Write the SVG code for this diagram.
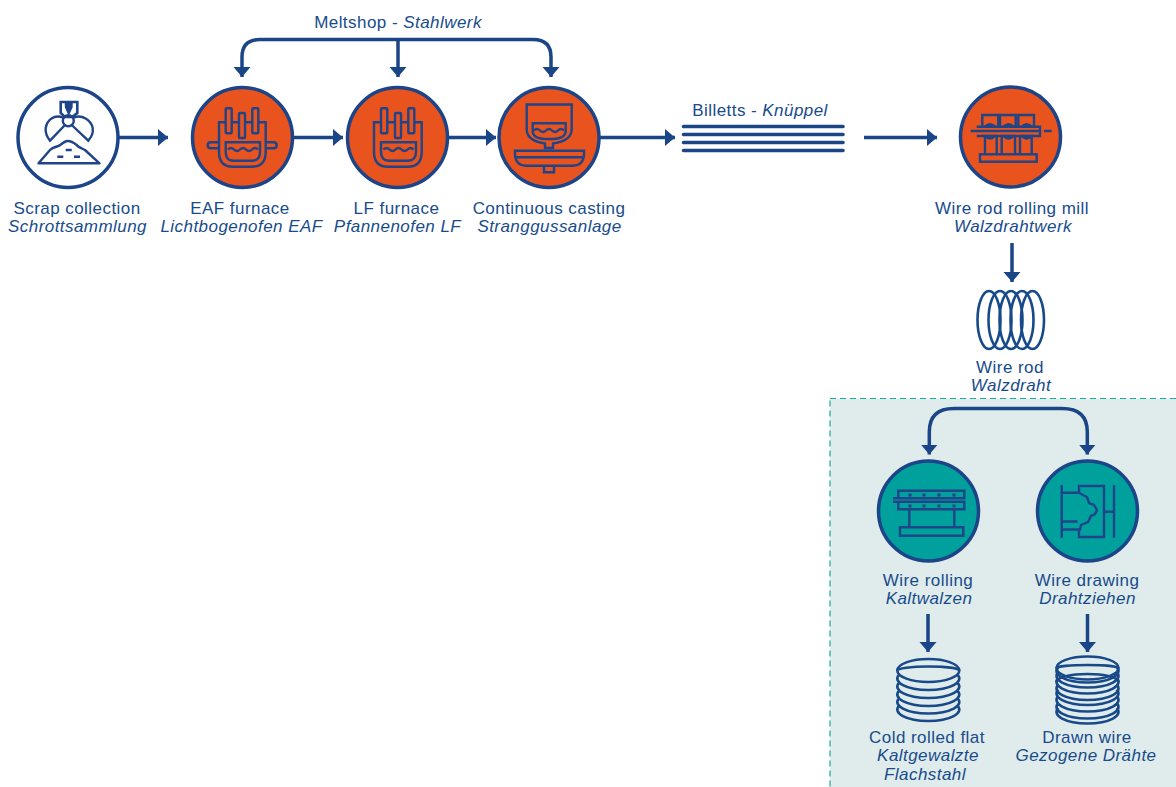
<svg xmlns="http://www.w3.org/2000/svg" width="1176" height="787" viewBox="0 0 1176 787">
<defs>
<style>
.ln{fill:none;stroke:#1a4587;stroke-width:3.5}
.ic{fill:none;stroke:#1f4488;stroke-width:2.4;stroke-linejoin:miter}
.rim{stroke:#1c4488;stroke-width:3.5}
.cl{fill:none;stroke:#184a8a;stroke-width:2.6}
.bl{fill:none;stroke:#1a4587;stroke-width:3.6;stroke-linecap:round}
text{font-family:"Liberation Sans",Arial,sans-serif;font-size:17px;letter-spacing:.45px;fill:#174b8c;text-anchor:middle}
.g{font-style:italic}
</style>
<marker id="ah" markerUnits="userSpaceOnUse" markerWidth="12" markerHeight="18" refX="10" refY="8.500" orient="auto"><path d="M0 0L10 8.500L0 17Z" fill="#1a4587"/></marker>
<path id="wave" d="M0 0q3-3 6 0t6 0 6 0 6 0 6 0"/>
</defs>
<rect width="1176" height="787" fill="#fff"/>
<rect id="panel" x="830" y="398.500" width="347" height="392" fill="#e0ebeb" stroke="#19a8a0" stroke-width="1.200" stroke-dasharray="6 4"/>
<g id="connectors">
<path class="ln" marker-end="url(#ah)" d="M119 137.500H168"/>
<path class="ln" marker-end="url(#ah)" d="M294 137.500H343"/>
<path class="ln" marker-end="url(#ah)" d="M449 137.500H496"/>
<path class="ln" marker-end="url(#ah)" d="M600 137.500H675"/>
<path class="ln" marker-end="url(#ah)" d="M864 137.500H937"/>
<path class="ln" marker-end="url(#ah)" d="M1012 243V282"/>
<path class="ln" marker-end="url(#ah)" d="M398 39.500H260Q242 39.500 242 57V77"/>
<path class="ln" marker-end="url(#ah)" d="M398 39.500H533Q551 39.500 551 57V77"/>
<path class="ln" marker-end="url(#ah)" d="M398 39.500V77"/>
<path class="ln" marker-end="url(#ah)" d="M1008 408.500H954Q929.300 408.500 929.300 432V454.500"/>
<path class="ln" marker-end="url(#ah)" d="M1008 408.500H1062Q1087.300 408.500 1087.300 432V454.500"/>
<path class="ln" marker-end="url(#ah)" d="M928 614V652"/>
<path class="ln" marker-end="url(#ah)" d="M1087.500 614V652"/>
</g>
<g id="meltshop-label"><text x="398" y="28">Meltshop - <tspan class="g">Stahlwerk</tspan></text></g>
<g id="scrap">
<circle class="rim" cx="68" cy="137.500" r="50" fill="#fff"/>
<g class="ic">
<path d="M60.700 102H77.300V113L72 117H65L60.700 113Z" stroke-width="2.600"/><path d="M66 102V107L68.700 113L71.500 107V102" fill="#1f4488"/>
<circle cx="68.300" cy="120.700" r="5.500"/>
<path d="M63.300 117.700C54 114 47 120 45.700 128C45 134 47 137 50 140.700L65 125"/>
<path d="M73.300 117.700C82 114 91 120 92.700 128C93.500 134 91 137 88.300 140.700L71.700 125"/>
<path d="M38.500 163.300H99.500L85 150C81 148 78 147 76.700 145C73 142 70 140.700 67 141C63 142 61 145 58.300 146C55 147 52 148 50 150Z" stroke-linejoin="round"/>
<path d="M65.700 150H71.700M57.300 156.700H63.300M74 156.700H80"/>
</g>
<text x="77" y="214">Scrap collection</text><text class="g" x="77.500" y="232">Schrottsammlung</text>
</g>
<g id="eaf">
<circle class="rim" cx="242.500" cy="137.500" r="50" fill="#e9531d"/>
<g class="ic">
<path d="M225.700 122.300H219V152Q219 166.700 233 166.700H252Q265.700 166.700 265.700 152V122.300H258.300M245 122.300H252.300M231.700 122.300H239"/>
<rect x="225.700" y="108.300" width="6" height="25" rx="1"/><rect x="239" y="113" width="6" height="25" rx="1"/><rect x="252.300" y="108.300" width="6" height="25" rx="1"/>
<path d="M225.700 142.300H260V152Q260 160.700 252 160.700H233Q225.700 160.700 225.700 152Z"/>
<use href="#wave" x="228" y="149.500"/>
<path d="M219 142.300H211Q207.700 142.300 207.700 145.300T211 148.300H219M265.700 142.300H273.700Q276.700 142.300 276.700 145.300T273.700 148.300H265.700"/>
</g>
<text x="240" y="214">EAF furnace</text><text class="g" x="241.500" y="232">Lichtbogenofen EAF</text>
</g>
<g id="lf">
<circle class="rim" cx="397.500" cy="137.500" r="50" fill="#e9531d"/>
<g class="ic">
<path d="M381 122.300H374V152Q374 166.700 388 166.700H407.700Q421.700 166.700 421.700 152V122.300H414.300M401 122.300H408.300M387.300 122.300H395"/>
<rect x="381" y="108.300" width="6.300" height="25" rx="1"/><rect x="395" y="113" width="6" height="25" rx="1"/><rect x="408.300" y="108.300" width="6" height="25" rx="1"/>
<path d="M381 142.300H416V152Q416 160.700 408 160.700H389Q381 160.700 381 152Z"/>
<use href="#wave" x="383.500" y="149.500"/>
</g>
<text x="396.500" y="214">LF furnace</text><text class="g" x="397.500" y="232">Pfannenofen LF</text>
</g>
<g id="casting">
<circle class="rim" cx="549" cy="137.500" r="50" fill="#e9531d"/>
<g class="ic">
<path d="M526.700 104.500H571.700V129Q571.700 141 553 143.500V148H545V143.500Q526.700 141 526.700 129Z"/>
<path d="M532.700 123.300H565.700V131Q565.700 138 554 139H544Q532.700 138 532.700 131Z"/>
<use href="#wave" x="534" y="130.500"/>
<path d="M515 150.700H584V155Q583 165.700 573 165.700H526Q516 165.700 515 155ZM516 157.300H583M544 165.700V172.300H554V165.700"/>
</g>
<text x="549" y="214">Continuous casting</text><text class="g" x="549.500" y="232">Stranggussanlage</text>
</g>
<g id="billets">
<text x="760" y="116">Billetts - <tspan class="g">Knüppel</tspan></text>
<path class="bl" d="M683.500 126.500H843M683.500 134.500H843M683.500 142.500H843M683.500 150.500H843"/>
</g>
<g id="rolling-mill">
<circle class="rim" cx="1010.500" cy="137" r="50" fill="#e9531d"/>
<g class="ic">
<path d="M982.300 126.700V115H998.300V126.700M1000 126.700V115H1015.700V126.700M1018.300 126.700V115H1034V126.700"/>
<path d="M985 154.300V136M996.700 136V154.300M1001.700 136V154.300M1015 136V154.300M1020 136V154.300M1031.700 136V154.300"/>
<rect x="980" y="154.300" width="56.700" height="7.400"/>
<path d="M976.700 126.700H1040V136H976.700M970.700 131H1040M1044 131H1051.700"/>
<path d="M985 126.700q5-5 10 0ZM1003.500 126.700q5-5 10 0ZM1021.700 126.700q5-5 10 0ZM985 136q5 5 10 0ZM1003.500 136q5 5 10 0ZM1021.700 136q5 5 10 0Z" fill="#1f4488"/>
</g>
<text x="1012" y="214">Wire rod rolling mill</text><text class="g" x="1013" y="232">Walzdrahtwerk</text>
</g>
<g id="wire-rod">
<g class="cl" stroke-width="3"><ellipse cx="989" cy="320" rx="11.500" ry="29"/><ellipse cx="1000" cy="320" rx="11.500" ry="29"/><ellipse cx="1011" cy="320" rx="11.500" ry="29"/><ellipse cx="1022" cy="320" rx="11.500" ry="29"/><ellipse cx="1032.500" cy="320" rx="11.500" ry="29"/></g>
<text x="1010" y="373">Wire rod</text><text class="g" x="1011" y="391">Walzdraht</text>
</g>
<g id="wire-rolling">
<circle class="rim" cx="928.500" cy="511" r="50" fill="#00a09d"/>
<g class="ic">
<path d="M898.300 498.300V490.700H964.300V498.300ZM898.300 501.700V509.300H964.300V501.700ZM893 498.300H964M893 501.700H964"/>
<path d="M909.300 509.300V527.300M954.300 509.300V527.300"/><rect x="900" y="527.300" width="63.300" height="8.400"/>
<path d="M910 493.500v3M924 493.500v3M939 493.500v3M954 493.500v3M910 504.500v3M924 504.500v3M939 504.500v3M954 504.500v3" stroke-width="3"/>
</g>
<text x="928" y="586">Wire rolling</text><text class="g" x="929" y="604">Kaltwalzen</text>
</g>
<g id="wire-drawing">
<circle class="rim" cx="1087.500" cy="511" r="50" fill="#00a09d"/>
<g class="ic">
<path d="M1061.700 485V537.700M1114 485V537.700M1104 511.700H1114M1061.700 492.700H1079V486H1104V537H1079V529.500M1061.700 521.500H1077.500M1061.700 529.500H1080L1081 525L1088 522L1091 516L1095 514L1097 510L1094 505L1089 503L1087 497L1083 495L1079 492.700"/>
</g>
<text x="1087" y="586">Wire drawing</text><text class="g" x="1087.500" y="604">Drahtziehen</text>
</g>
<g id="cold-flat">
<g class="cl"><ellipse cx="928.300" cy="670.500" rx="31" ry="11.500"/>
<path d="M897.300 670.500A31 4 0 0 1 959.300 670.500"/>
<path d="M899.200 674.600a31 11.500 0 1 0 58.200 0M899.200 682.600a31 11.500 0 1 0 58.200 0M899.200 690.600a31 11.500 0 1 0 58.200 0M899.200 698.100a31 11.500 0 1 0 58.200 0M899.200 705.600a31 11.500 0 1 0 58.200 0"/></g>
<text x="927" y="743">Cold rolled flat</text><text class="g" x="928" y="761">Kaltgewalzte</text><text class="g" x="925" y="780">Flachstahl</text>
</g>
<g id="drawn-wire">
<g class="cl"><ellipse cx="1087.500" cy="668" rx="31" ry="11.500"/>
<path d="M1056.500 668A31 3 0 0 1 1118.500 668M1056.500 682A31 8 0 0 1 1118.500 682"/>
<path d="M1058.400 667a31 11.500 0 1 0 58.200 0M1058.400 672a31 11.500 0 1 0 58.200 0M1058.400 678a31 11.500 0 1 0 58.200 0M1058.400 684.500a31 11.500 0 1 0 58.200 0M1058.400 689.500a31 11.500 0 1 0 58.200 0M1058.400 696a31 11.500 0 1 0 58.200 0M1058.400 703a31 11.500 0 1 0 58.200 0M1058.400 708a31 11.500 0 1 0 58.200 0"/></g>
<text x="1087" y="743">Drawn wire</text><text class="g" x="1086" y="761">Gezogene Drähte</text>
</g>
</svg>
